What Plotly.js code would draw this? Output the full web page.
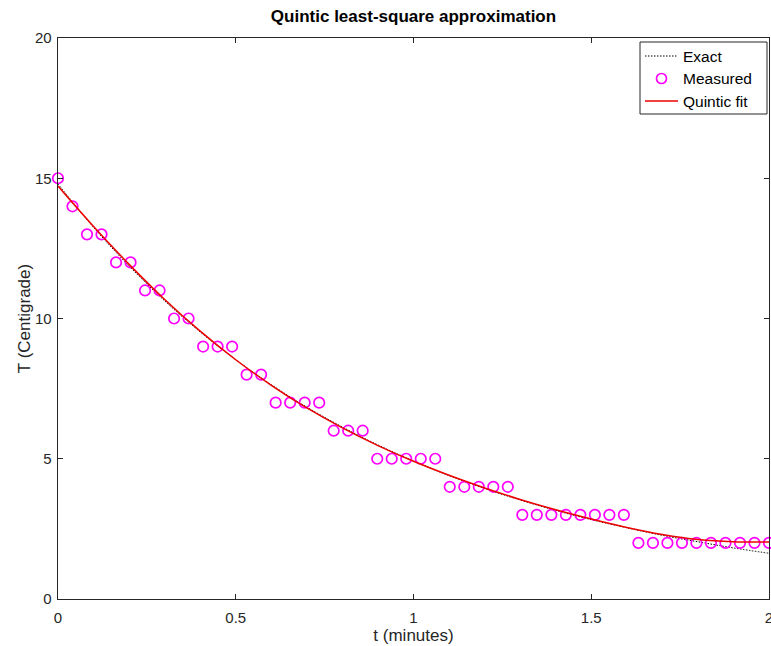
<!DOCTYPE html>
<html>
<head>
<meta charset="utf-8">
<script src="https://cdn.plot.ly/plotly-3.0.1.min.js"></script>
<style>html,body{margin:0;padding:0;background:#fff;}#chart{width:771px;height:646px;}</style>
</head>
<body>
<div id="chart"></div>
<script>
// Measured samples (t in minutes, T in Centigrade)
const tMeasured = [0.0000,0.0408,0.0816,0.1224,0.1633,0.2041,0.2449,0.2857,0.3265,0.3673,
  0.4082,0.4490,0.4898,0.5306,0.5714,0.6122,0.6531,0.6939,0.7347,0.7755,
  0.8163,0.8571,0.8980,0.9388,0.9796,1.0204,1.0612,1.1020,1.1429,1.1837,
  1.2245,1.2653,1.3061,1.3469,1.3878,1.4286,1.4694,1.5102,1.5510,1.5918,
  1.6327,1.6735,1.7143,1.7551,1.7959,1.8367,1.8776,1.9184,1.9592,2.0000];
const TMeasured = [15,14,13,13,12,12,11,11,10,10,
  9,9,9,8,8,7,7,7,7,6,
  6,6,5,5,5,5,5,4,4,4,
  4,4,3,3,3,3,3,3,3,3,
  2,2,2,2,2,2,2,2,2,2];

// Curves
const tCurve = [0.0,0.1,0.2,0.3,0.4,0.5,0.6,0.7,0.8,0.9,1.0,1.1,1.2,1.3,1.4,1.5,1.6,1.7,1.8,1.9,2.0];
const TExact = [14.80,13.25,11.87,10.63,9.52,8.53,7.64,6.84,6.13,5.49,4.92,4.40,3.94,3.53,3.16,2.83,2.54,2.27,2.04,1.82,1.63];
const TFit   = [14.72,13.28,11.93,10.68,9.55,8.53,7.62,6.81,6.10,5.47,4.91,4.41,3.96,3.55,3.18,2.85,2.55,2.30,2.12,2.04,2.03];

const seriesNames = ['Exact', 'Measured', 'Quintic fit'];

const xTicks = [0,0.5,1,1.5,2];
const xTickText = ['0','0.5','1','1.5','2'];
const yTicks = [0,5,10,15,20];
const yTickText = ['0','5','10','15','20'];

const FONT = 'Liberation Sans, Arial, Helvetica, sans-serif';
const AX = '#262626';
const C_EXACT = '#000000', C_MEAS = '#ff00ff', C_FIT = '#ee0000';
const EXACT_DASH = '1.5px,1.5px';

const W = 771, H = 646;
const M = {l: 58, r: 2, t: 38, b: 47};
const PW = W - M.l - M.r, PH = H - M.t - M.b;
// pixel -> paper helpers (for legend placement only)
const px = v => (v - M.l) / PW;
const py = v => (H - M.b - v) / PH;

const traces = [
  {x: tCurve, y: TExact, mode: 'lines', name: seriesNames[0], line: {color: C_EXACT, width: 1, dash: EXACT_DASH, shape: 'spline'}},
  {x: tMeasured, y: TMeasured, mode: 'markers', name: seriesNames[1], cliponaxis: false,
   marker: {symbol: 'circle-open', size: 10.5, color: C_MEAS, line: {width: 1.7, color: C_MEAS}}},
  {x: tCurve, y: TFit, mode: 'lines', name: seriesNames[2], line: {color: C_FIT, width: 1.5, shape: 'spline'}}
];

// Legend box drawn to match the reference layout
const legRows = [56, 78.5, 101];
const shapes = [
  {type: 'rect', xref: 'paper', yref: 'paper', x0: px(640), x1: px(767), y0: py(114), y1: py(42),
   line: {color: AX, width: 1}, fillcolor: '#ffffff', layer: 'above'},
  {type: 'line', xref: 'paper', yref: 'paper', x0: px(645), x1: px(678), y0: py(legRows[0]), y1: py(legRows[0]),
   line: {color: C_EXACT, width: 1, dash: EXACT_DASH}, layer: 'above'},
  {type: 'circle', xref: 'paper', yref: 'paper', xsizemode: 'pixel', ysizemode: 'pixel',
   xanchor: px(661.5), yanchor: py(legRows[1]), x0: -5, x1: 5, y0: -5, y1: 5,
   line: {color: C_MEAS, width: 1.7}, layer: 'above'},
  {type: 'line', xref: 'paper', yref: 'paper', x0: px(645), x1: px(678), y0: py(legRows[2]), y1: py(legRows[2]),
   line: {color: C_FIT, width: 1.5}, layer: 'above'}
];
const annotations = seriesNames.map((n, i) => ({
  text: n, xref: 'paper', yref: 'paper', x: px(681), y: py(legRows[i]), xanchor: 'left', yanchor: 'middle',
  showarrow: false, font: {family: FONT, size: 15.5, color: '#000'}
}));

const axisCommon = {
  showgrid: false, zeroline: false, showline: true, mirror: 'ticks',
  linecolor: AX, linewidth: 1.3, ticks: 'inside', ticklen: 5, tickwidth: 1, tickcolor: AX,
  tickfont: {family: FONT, size: 15, color: AX}, tickmode: 'array', ticklabeloverflow: 'allow'
};

const layout = {
  width: W, height: H,
  margin: M,
  paper_bgcolor: '#ffffff', plot_bgcolor: '#ffffff',
  font: {family: FONT, color: AX},
  title: {text: '<b>Quintic least-square approximation</b>', font: {family: FONT, size: 17, color: '#000'},
          x: 0.5, xref: 'paper', xanchor: 'center', y: 1 - 16/646, yref: 'container', yanchor: 'middle'},
  xaxis: Object.assign({}, axisCommon, {range: [0, 2], tickvals: xTicks, ticktext: xTickText, ticklabelstandoff: 5,
    title: {text: 't (minutes)', font: {family: FONT, size: 17, color: AX}, standoff: 0}}),
  yaxis: Object.assign({}, axisCommon, {range: [0, 20], tickvals: yTicks, ticktext: yTickText, ticklabelstandoff: 2,
    title: {text: 'T (Centigrade)', font: {family: FONT, size: 17, color: AX}, standoff: 0}}),
  showlegend: false,
  shapes: shapes,
  annotations: annotations
};

Plotly.newPlot('chart', traces, layout, {displayModeBar: false, staticPlot: true});
</script>
</body>
</html>
